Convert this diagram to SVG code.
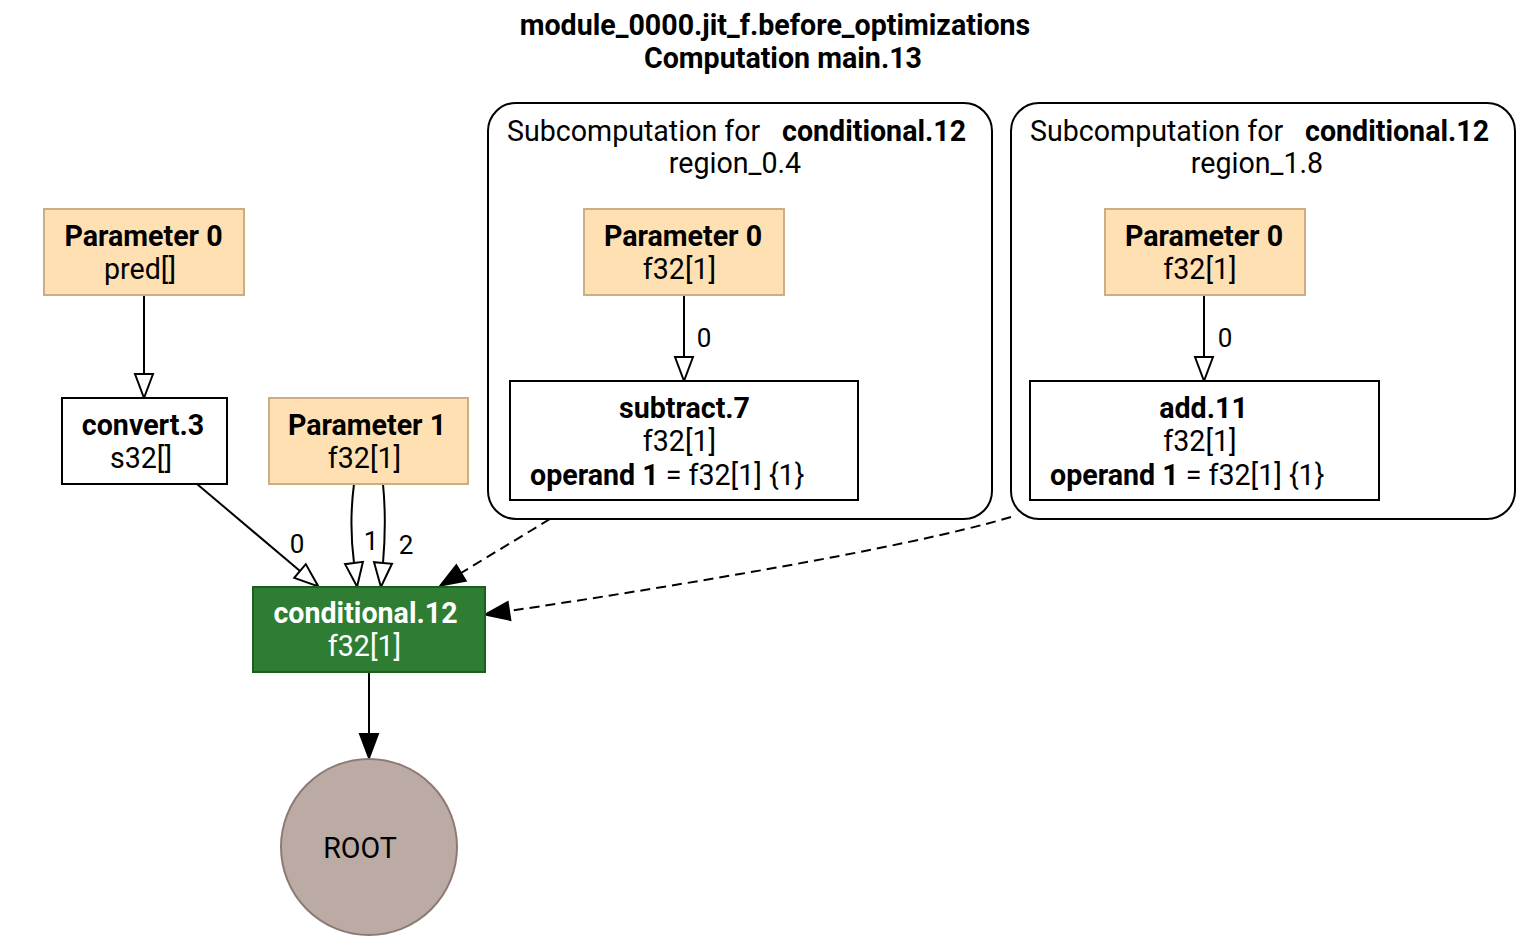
<svg xmlns="http://www.w3.org/2000/svg" width="1534" height="946" viewBox="0 0 1534 946">
  <style>
    text { font-family: Roboto, "Liberation Sans", sans-serif; font-size: 28.6px; fill: #000; }
    .b { font-weight: bold; }
    .c { text-anchor: middle; }
    .lbl { font-size: 26px; }
    .param { fill: #ffe0b2; stroke: #cbae82; stroke-width: 2; }
    .op { fill: #ffffff; stroke: #000; stroke-width: 2; }
    .cluster { fill: none; stroke: #000; stroke-width: 2; }
    .edge { fill: none; stroke: #000; stroke-width: 2; }
    .dash { stroke-dasharray: 10 6; }
  </style>
  <defs>
    <marker id="hollow" markerUnits="userSpaceOnUse" viewBox="0 0 24 18" markerWidth="24" markerHeight="18" refX="0" refY="9" orient="auto" overflow="visible">
      <path d="M0,0 L24,9 L0,18 Z" fill="#fff" stroke="#000" stroke-width="2"/>
    </marker>
    <marker id="solid" markerUnits="userSpaceOnUse" viewBox="0 0 24 18" markerWidth="24" markerHeight="18" refX="0" refY="9" orient="auto" overflow="visible">
      <path d="M0,0 L24,9 L0,18 Z" fill="#000" stroke="#000" stroke-width="2"/>
    </marker>
  </defs>

  <!-- title -->
  <g id="title">
    <text class="b c" x="775" y="35">module_0000.jit_f.before_optimizations</text>
    <text class="b c" x="783" y="68">Computation main.13</text>
  </g>

  <!-- region clusters -->
  <g id="cluster_region_0_4">
    <rect class="cluster" x="488" y="103" width="504" height="416" rx="28"/>
    <text x="507" y="141">Subcomputation for <tspan class="b" x="782">conditional.12</tspan></text>
    <text class="c" x="735" y="173">region_0.4</text>
  </g>
  <g id="cluster_region_1_8">
    <rect class="cluster" x="1011" y="103" width="504" height="416" rx="28"/>
    <text x="1030" y="141">Subcomputation for <tspan class="b" x="1305">conditional.12</tspan></text>
    <text class="c" x="1257" y="173">region_1.8</text>
  </g>

  <!-- connectors -->
  <g id="edges">
    <path class="edge" d="M144,295 L144,374" marker-end="url(#hollow)"/>
    <path class="edge" d="M197,484 L300,571" marker-end="url(#hollow)"/>
    <path class="edge" d="M354,484 C350,515 351,540 354,563" marker-end="url(#hollow)"/>
    <path class="edge" d="M383,484 C386,515 385,540 383,563" marker-end="url(#hollow)"/>
    <path class="edge" d="M684,295 L684,357" marker-end="url(#hollow)"/>
    <path class="edge" d="M1204,295 L1204,357" marker-end="url(#hollow)"/>
    <path class="edge dash" d="M550,519 L461,573" marker-end="url(#solid)"/>
    <path class="edge dash" d="M1011,517 C900,550 650,590 509,611" marker-end="url(#solid)"/>
    <path class="edge" d="M369,672 L369,734" marker-end="url(#solid)"/>
    <text class="lbl c" x="297" y="553">0</text>
    <text class="lbl c" x="371" y="550">1</text>
    <text class="lbl c" x="406" y="554">2</text>
    <text class="lbl c" x="704" y="347">0</text>
    <text class="lbl c" x="1225" y="347">0</text>
  </g>

  <!-- nodes -->
  <g id="parameter_0">
    <rect class="param" x="44" y="209" width="200" height="86"/>
    <text class="b c" x="143.5" y="246">Parameter 0</text>
    <text class="c" x="140" y="279">pred[]</text>
  </g>
  <g id="convert_3">
    <rect class="op" x="62" y="398" width="165" height="86"/>
    <text class="b c" x="143" y="435">convert.3</text>
    <text class="c" x="141" y="468">s32[]</text>
  </g>
  <g id="parameter_1">
    <rect class="param" x="269" y="398" width="199" height="86"/>
    <text class="b c" x="367" y="435">Parameter 1</text>
    <text class="c" x="364.5" y="468">f32[1]</text>
  </g>
  <g id="conditional_12">
    <rect x="253" y="587" width="232" height="85" fill="#2e7d32" stroke="#1b5e20" stroke-width="2"/>
    <text class="b c" x="365.5" y="623" style="fill:#fff">conditional.12</text>
    <text class="c" x="364.5" y="656" style="fill:#fff">f32[1]</text>
  </g>
  <g id="root">
    <circle cx="369" cy="847" r="88" fill="#bcaaa4" stroke="#8c7b75" stroke-width="2"/>
    <text class="c" x="360" y="858">ROOT</text>
  </g>
  <g id="region_0_4_parameter_0">
    <rect class="param" x="584" y="209" width="200" height="86"/>
    <text class="b c" x="683" y="246">Parameter 0</text>
    <text class="c" x="679.5" y="279">f32[1]</text>
  </g>
  <g id="subtract_7">
    <rect class="op" x="510" y="381" width="348" height="119"/>
    <text class="b c" x="684.5" y="418">subtract.7</text>
    <text class="c" x="679.5" y="451">f32[1]</text>
    <text x="530" y="485"><tspan class="b">operand 1</tspan> = f32[1] {1}</text>
  </g>
  <g id="region_1_8_parameter_0">
    <rect class="param" x="1105" y="209" width="200" height="86"/>
    <text class="b c" x="1204" y="246">Parameter 0</text>
    <text class="c" x="1200" y="279">f32[1]</text>
  </g>
  <g id="add_11">
    <rect class="op" x="1030" y="381" width="349" height="119"/>
    <text class="b c" x="1203.5" y="418">add.11</text>
    <text class="c" x="1200" y="451">f32[1]</text>
    <text x="1050" y="485"><tspan class="b">operand 1</tspan> = f32[1] {1}</text>
  </g>
</svg>
